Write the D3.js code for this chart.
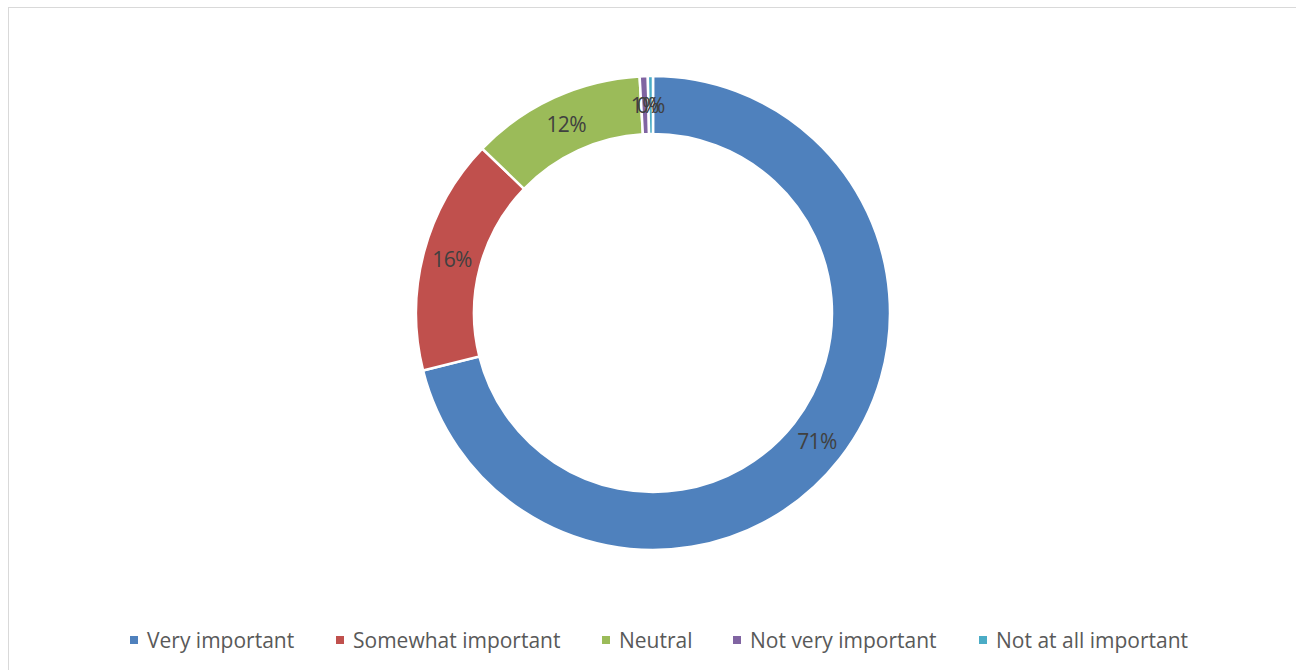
<!DOCTYPE html>
<html>
<head>
<meta charset="utf-8">
<script src="https://cdn.jsdelivr.net/npm/d3@7"></script>
<style>
  body { margin: 0; background: #fff; }
  svg { display: block; }
</style>
</head>
<body>
<div id="chart"></div>
<script>
(function() {
  var width = 1296;
  var height = 670;

  // answers (percent of respondents)
  const categories = ["Very important", "Somewhat important", "Neutral", "Not very important", "Not at all important"];
  const shares = [71.1, 16.1, 11.9, 0.55, 0.35];
  const labels = ["71%", "16%", "12%", "1%", "0%"];
  const colors = ["#4f81bd", "#c0504d", "#9bbb59", "#8064a2", "#4bacc6"];

  const data = categories.map((c, i) => ({name: c, value: shares[i], label: labels[i]}));

  const svg = d3.select("#chart").append("svg")
      .attr("width", width)
      .attr("height", height);

  // chart area border (runs off the right/bottom edge like the original)
  svg.append("rect")
      .attr("x", 8.5)
      .attr("y", 7.5)
      .attr("width", width)
      .attr("height", height)
      .attr("fill", "#fff")
      .attr("stroke", "#d9d9d9");

  const cx = 653, cy = 313;
  const outer = 237, inner = 179;

  const color = d3.scaleOrdinal().domain(categories).range(colors);

  const pie = d3.pie()
      .value(d => d.value)
      .sort(null);

  const arc = d3.arc()
      .innerRadius(inner)
      .outerRadius(outer);

  const g = svg.append("g").attr("transform", `translate(${cx},${cy})`);

  const arcs = pie(data);

  g.selectAll("path")
    .data(arcs)
    .enter().append("path")
      .attr("d", arc)
      .attr("fill", d => color(d.data.name))
      .attr("stroke", "#fff")
      .attr("stroke-width", 2.5);

  // the 1% / 0% labels sit on top of each other, same as the original
  g.selectAll("text")
    .data(arcs)
    .enter().append("text")
      .attr("transform", d => `translate(${arc.centroid(d)})`)
      .attr("text-anchor", "middle")
      .attr("dy", "0.36em")
      .style("font", "21px 'Open Sans', sans-serif")
      .style("letter-spacing", "-0.6px")
      .attr("fill", "#404040")
      .text(d => d.data.label);

  // legend
  const legendX = [130, 336, 602, 733, 979];
  const legend = svg.append("g")
    .selectAll("g")
    .data(categories)
    .enter().append("g")
      .attr("transform", (d, i) => `translate(${legendX[i]},640)`);

  legend.append("rect")
      .attr("x", 0)
      .attr("y", -4)
      .attr("width", 8)
      .attr("height", 8)
      .attr("fill", d => color(d));

  legend.append("text")
      .attr("x", 17)
      .attr("dy", "0.36em")
      .style("font", "21px 'Open Sans', sans-serif")
      .attr("fill", "#595959")
      .text(d => d);
})();
</script>
</body>
</html>
